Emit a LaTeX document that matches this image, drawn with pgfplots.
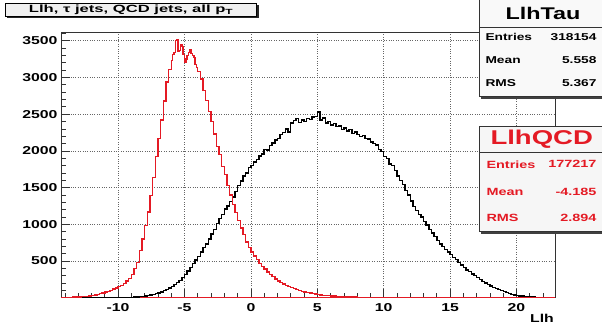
\documentclass[border=0pt]{standalone}
\usepackage{fontspec}
\setmainfont{Liberation Sans}[FakeStretch=1.38]
\usepackage{pgfplots}
\pgfplotsset{compat=1.18}
\definecolor{rootred}{RGB}{228,26,36}
\begin{document}
\bfseries
\begin{tikzpicture}[x=1bp,y=1bp]
\path[use as bounding box] (0,0) rectangle (602,329);
\begin{axis}[
  at={(61bp,31.3bp)}, anchor=south west,
  scale only axis, width=494bp, height=265bp,
  xmin=-14.3, xmax=22.9, ymin=0, ymax=3610,
  clip=false,
  axis x line*=bottom, axis y line*=left,
  x axis line style={draw=rootred, line width=1.4bp, -},
  y axis line style={draw=black!80, line width=0.8bp, -},
  xtick={-10,-5,...,20}, ytick={500,1000,...,3500},
  minor xtick={-14,-13,...,22}, minor ytick={100,200,...,3600},
  tick align=inside,
  major tick length=9bp, minor tick length=4.5bp,
  tick style={black!80, line width=0.7bp},
  grid=major, major grid style={dotted, black!60, line width=0.6bp},
  /pgf/number format/assume math mode=true,
  /pgf/number format/1000 sep={},
  tick label style={font=\bfseries\fontsize{11.5}{13}\selectfont},
  xticklabel style={yshift=-2bp},
]
\draw[black!80, line width=0.8bp] (rel axis cs:0,1) -- (rel axis cs:1,1) -- (rel axis cs:1,0);
\addplot[const plot, black, line width=1.4bp] coordinates {
(-14.3,0) (-10.0,1) (-9.8,1) (-9.6,2) (-9.4,3) (-9.2,4) (-9.0,6) (-8.8,8) (-8.6,10) (-8.4,13) (-8.2,17) (-8.0,22) (-7.8,28) (-7.6,35) (-7.4,44) (-7.2,55) (-7.0,66) (-6.8,80) (-6.6,96) (-6.4,112) (-6.2,132) (-6.0,152) (-5.8,178) (-5.6,205) (-5.4,238) (-5.2,275) (-5.0,318) (-4.8,362) (-4.6,410) (-4.4,468) (-4.2,515) (-4.0,565) (-3.8,620) (-3.6,680) (-3.4,730) (-3.2,800) (-3.0,870) (-2.8,930) (-2.6,1010) (-2.4,1080) (-2.2,1130) (-2.0,1210) (-1.8,1250) (-1.6,1310) (-1.4,1370) (-1.2,1450) (-1.0,1530) (-0.8,1590) (-0.6,1660) (-0.4,1700) (-0.2,1770) (0.0,1800) (0.2,1850) (0.4,1880) (0.6,1930) (0.8,1960) (1.0,2020) (1.2,2010) (1.4,2070) (1.6,2110) (1.8,2150) (2.0,2170) (2.2,2220) (2.4,2250) (2.6,2300) (2.8,2260) (3.0,2380) (3.2,2410) (3.4,2440) (3.6,2390) (3.8,2420) (4.0,2400) (4.2,2440) (4.4,2430) (4.6,2460) (4.8,2470) (5.0,2530) (5.2,2420) (5.4,2450) (5.6,2380) (5.8,2400) (6.0,2350) (6.2,2370) (6.4,2330) (6.6,2340) (6.8,2290) (7.0,2310) (7.2,2270) (7.4,2290) (7.6,2240) (7.8,2260) (8.0,2220) (8.2,2200) (8.4,2210) (8.6,2170) (8.8,2160) (9.0,2120) (9.2,2100) (9.4,2080) (9.6,2020) (9.8,1990) (10.0,1920) (10.2,1900) (10.4,1820) (10.6,1800) (10.8,1730) (11.0,1660) (11.2,1600) (11.4,1540) (11.6,1460) (11.8,1400) (12.0,1320) (12.2,1240) (12.4,1190) (12.6,1130) (12.8,1100) (13.0,1040) (13.2,990) (13.4,930) (13.6,880) (13.8,830) (14.0,780) (14.2,730) (14.4,700) (14.6,660) (14.8,620) (15.0,590) (15.2,550) (15.4,520) (15.6,480) (15.8,445) (16.0,410) (16.2,380) (16.4,355) (16.6,325) (16.8,300) (17.0,275) (17.2,245) (17.4,222) (17.6,200) (17.8,180) (18.0,160) (18.2,142) (18.4,128) (18.6,112) (18.8,97) (19.0,83) (19.2,70) (19.4,58) (19.6,46) (19.8,36) (20.0,30) (20.2,25) (20.4,22) (20.6,18) (20.8,15) (21.0,11) (21.2,7) (21.4,5) (21.6,3) (21.8,2) (22.0,1) (22.2,0) (22.9,0)
};
\addplot[const plot, rootred, line width=1.4bp] coordinates {
(-14.3,2) (-14.2,3) (-14.0,3) (-13.8,4) (-13.6,6) (-13.4,7) (-13.2,9) (-13.0,11) (-12.8,13) (-12.6,16) (-12.4,20) (-12.2,25) (-12.0,31) (-11.8,37) (-11.6,46) (-11.4,55) (-11.2,64) (-11.0,76) (-10.8,88) (-10.6,100) (-10.4,116) (-10.2,134) (-10.0,150) (-9.8,170) (-9.6,196) (-9.4,225) (-9.2,262) (-9.0,318) (-8.8,395) (-8.6,480) (-8.4,640) (-8.2,800) (-8.0,980) (-7.8,1170) (-7.6,1390) (-7.4,1640) (-7.2,1920) (-7.0,2170) (-6.8,2420) (-6.6,2680) (-6.4,2940) (-6.2,3110) (-6.0,3230) (-5.9,3310) (-5.8,3340) (-5.7,3500) (-5.6,3520) (-5.5,3360) (-5.4,3370) (-5.3,3450) (-5.2,3420) (-5.1,3310) (-5.0,3200) (-4.9,3250) (-4.8,3300) (-4.7,3340) (-4.6,3380) (-4.5,3330) (-4.4,3300) (-4.3,3270) (-4.2,3180) (-4.1,3140) (-4.0,3080) (-3.8,2980) (-3.6,2820) (-3.4,2690) (-3.2,2540) (-3.0,2400) (-2.8,2230) (-2.6,2060) (-2.4,1950) (-2.2,1790) (-2.0,1680) (-1.8,1530) (-1.6,1400) (-1.4,1270) (-1.2,1160) (-1.0,1050) (-0.8,950) (-0.6,860) (-0.4,760) (-0.2,680) (0.0,620) (0.2,570) (0.4,520) (0.6,470) (0.8,425) (1.0,390) (1.2,350) (1.4,315) (1.6,285) (1.8,255) (2.0,228) (2.2,208) (2.4,185) (2.6,168) (2.8,150) (3.0,136) (3.2,122) (3.4,108) (3.6,97) (3.8,86) (4.0,78) (4.2,70) (4.4,62) (4.6,55) (4.8,48) (5.0,42) (5.2,38) (5.4,34) (5.6,30) (5.8,26) (6.0,23) (6.2,21) (6.4,19) (6.6,16) (6.8,14) (7.0,12) (7.2,11) (7.4,9) (7.6,8) (7.8,7) (8.0,6) (8.2,5) (8.4,5) (8.6,4) (8.8,3) (9.0,3) (9.2,2) (9.4,2) (9.6,1) (9.8,1) (10.0,1) (10.2,0) (22.9,0)
};
\node[anchor=north east, inner sep=0pt, font=\bfseries\fontsize{11.5}{12}\selectfont] at (rel axis cs:1,0) [yshift=-16bp, xshift=-1bp] {Llh};
\end{axis}
% title box
\fill[black!85] (6.8,310.5) rectangle (258.5,324);
\filldraw[fill=gray!12, draw=black, line width=0.7bp] (5,312.3) rectangle (256.7,325.7);
\node[font=\bfseries\fontsize{10.5}{12}\selectfont] at (130.8,319) {\scalebox{1.15}[1]{Llh, τ jets, QCD jets, all p\raisebox{-0.35ex}{\fontsize{7.5}{8}\selectfont T}}};
% LlhTau box
\fill[black!75] (481.3,230) rectangle (606,327);
\filldraw[fill=gray!5, draw=black!80, line width=0.8bp] (479.3,232.3) rectangle (604,330);
\draw[black!80, line width=0.8bp] (479.3,301.7) -- (604,301.7);
\node[font=\bfseries\fontsize{17}{18}\selectfont] at (543,315.5) {LlhTau};
\node[anchor=west, font=\bfseries\fontsize{10}{12}\selectfont] at (482,292.3) {Entries};
\node[anchor=east, font=\bfseries\fontsize{10}{12}\selectfont] at (600,292.3) {318154};
\node[anchor=west, font=\bfseries\fontsize{10}{12}\selectfont] at (482,269) {Mean};
\node[anchor=east, font=\bfseries\fontsize{10}{12}\selectfont] at (600,269) {5.558};
\node[anchor=west, font=\bfseries\fontsize{10}{12}\selectfont] at (482,245.7) {RMS};
\node[anchor=east, font=\bfseries\fontsize{10}{12}\selectfont] at (600,245.7) {5.367};
% LlhQCD box
\fill[black!75] (481.3,95) rectangle (606,201);
\filldraw[fill=gray!7, draw=black!80, line width=0.8bp] (479.3,97.3) rectangle (604,203);
\draw[black!80, line width=0.8bp] (479.3,176.3) -- (604,176.3);
\node[text=rootred, font=\bfseries\fontsize{20}{22}\selectfont] at (541.7,189.5) {LlhQCD};
\node[text=rootred, anchor=west, font=\bfseries\fontsize{10.5}{12}\selectfont] at (483,164.7) {Entries};
\node[text=rootred, anchor=east, font=\bfseries\fontsize{10.5}{12}\selectfont] at (600,164.7) {177217};
\node[text=rootred, anchor=west, font=\bfseries\fontsize{10.5}{12}\selectfont] at (483,137.3) {Mean};
\node[text=rootred, anchor=east, font=\bfseries\fontsize{10.5}{12}\selectfont] at (600,137.3) {-4.185};
\node[text=rootred, anchor=west, font=\bfseries\fontsize{10.5}{12}\selectfont] at (483,111.3) {RMS};
\node[text=rootred, anchor=east, font=\bfseries\fontsize{10.5}{12}\selectfont] at (600,111.3) {2.894};
\end{tikzpicture}
\end{document}
